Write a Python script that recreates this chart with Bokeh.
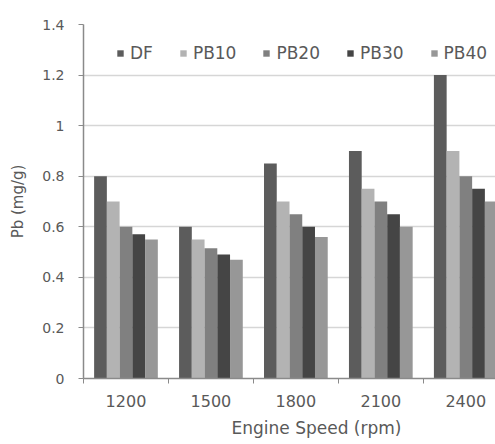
from bokeh.plotting import figure
from bokeh.models import Range1d, FixedTicker, Legend, LegendItem, Title
from bokeh.transform import dodge
from bokeh.embed import file_html
from bokeh.resources import INLINE
from bokeh.models import ColumnDataSource

# ---- data ----
speeds = ["1200", "1500", "1800", "2100", "2400"]
series = ["DF", "PB10", "PB20", "PB30", "PB40"]
DF = [0.80, 0.60, 0.85, 0.90, 1.20]
PB10 = [0.70, 0.55, 0.70, 0.75, 0.90]
PB20 = [0.60, 0.515, 0.65, 0.70, 0.80]
PB30 = [0.57, 0.49, 0.60, 0.65, 0.75]
PB40 = [0.55, 0.47, 0.56, 0.60, 0.70]
y_ticks = [0, 0.2, 0.4, 0.6, 0.8, 1.0, 1.2, 1.4]
y_tick_labels = ["0", "0.2", "0.4", "0.6", "0.8", "1", "1.2", "1.4"]
x_title = "Engine Speed (rpm)"
y_title = "Pb (mg/g)"

colors = ["#5c5c5c", "#b3b3b3", "#808080", "#454545", "#979797"]
FONT = "DejaVu Sans"
TXT = "#595959"

centers = [i + 0.5 for i in range(len(speeds))]
src = ColumnDataSource(dict(x=centers, DF=DF, PB10=PB10, PB20=PB20, PB30=PB30, PB40=PB40))

p = figure(width=495, height=444, output_backend="svg", toolbar_location=None,
           x_range=Range1d(0, 4.85), y_range=Range1d(0, 1.4),
           min_border_left=83, min_border_right=0, min_border_top=24, min_border_bottom=66)
p.outline_line_color = None
p.background_fill_color = "white"

bw = 0.15
offsets = [-0.3, -0.15, 0.0, 0.15, 0.3]
renderers = []
for name, off, c in zip(series, offsets, colors):
    r = p.vbar(x=dodge("x", off), top=name, width=bw, source=src,
               fill_color=c, line_color=None)
    renderers.append(r)

# axes
AX = "#8a8a8a"
p.yaxis.ticker = FixedTicker(ticks=y_ticks)
p.yaxis.major_label_overrides = {t: l for t, l in zip(y_ticks, y_tick_labels)}
p.yaxis.minor_tick_line_color = None
p.yaxis.major_tick_out = 5
p.yaxis.major_tick_in = 0
p.yaxis.major_tick_line_color = AX
p.yaxis.axis_line_color = AX
p.yaxis.axis_line_width = 1.5
p.yaxis.major_label_text_font = FONT
p.yaxis.major_label_text_font_size = "14px"
p.yaxis.major_label_text_color = TXT
p.yaxis.major_label_standoff = 14
p.yaxis.axis_label = y_title
p.yaxis.axis_label_text_font = FONT
p.yaxis.axis_label_text_font_size = "15px"
p.yaxis.axis_label_text_font_style = "normal"
p.yaxis.axis_label_text_color = TXT
p.yaxis.axis_label_standoff = 12

p.xaxis.ticker = FixedTicker(ticks=centers, minor_ticks=[0, 1, 2, 3, 4])
p.xaxis.major_label_overrides = {c: s for c, s in zip(centers, speeds)}
p.xaxis.major_tick_line_color = None
p.xaxis.major_tick_out = 0
p.xaxis.major_tick_in = 0
p.xaxis.minor_tick_out = 5
p.xaxis.minor_tick_in = 0
p.xaxis.minor_tick_line_color = AX
p.xaxis.axis_line_color = AX
p.xaxis.axis_line_width = 1.5
p.xaxis.major_label_text_font = FONT
p.xaxis.major_label_text_font_size = "16px"
p.xaxis.major_label_text_color = TXT
p.xaxis.major_label_standoff = 11

t = Title(text=x_title, align="left", offset=148, standoff=13,
          text_font=FONT, text_font_size="17px", text_font_style="normal",
          text_color=TXT)
p.add_layout(t, "below")

p.xgrid.grid_line_color = None
p.ygrid.grid_line_color = "#d6d6d6"
p.ygrid.grid_line_width = 1.5
p.ygrid.ticker = FixedTicker(ticks=y_ticks)

legend = Legend(items=[LegendItem(label=s, renderers=[r]) for s, r in zip(series, renderers)],
                orientation="horizontal", location=(33, 315),
                glyph_width=8, glyph_height=8, label_standoff=6, spacing=26,
                padding=0, margin=0, border_line_color=None, background_fill_alpha=0,
                label_text_font=FONT, label_text_font_size="17px", label_text_color=TXT,
                label_height=16)
p.add_layout(legend, "center")

open("out.html", "w").write(file_html(p, INLINE))
